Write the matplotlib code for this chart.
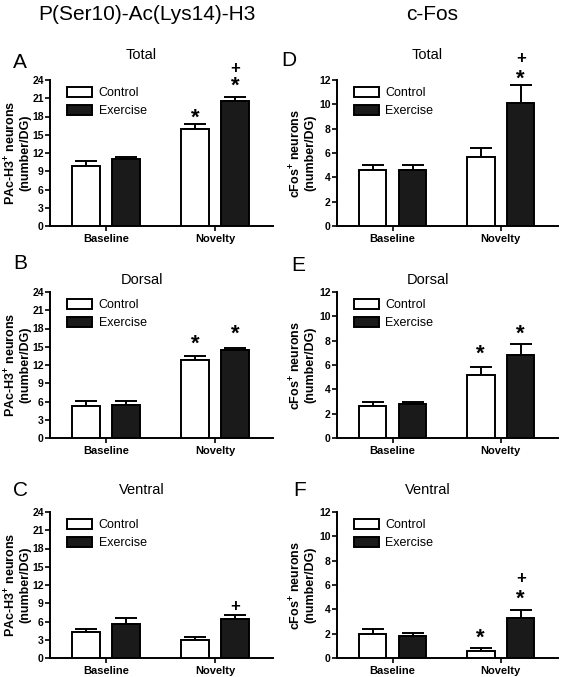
import matplotlib
matplotlib.use("Agg")
import matplotlib.pyplot as plt
import numpy as np
from matplotlib.patches import Patch

plt.rcParams['font.family'] = ['Liberation Sans', 'DejaVu Sans']
plt.rcParams['mathtext.fontset'] = 'custom'
plt.rcParams['mathtext.rm'] = 'Liberation Sans:bold'
plt.rcParams['mathtext.bf'] = 'Liberation Sans:bold'

categories = ["Baseline", "Novelty"]
groups = ["Control", "Exercise"]

# P(Ser10)-Ac(Lys14)-H3
pac_total_mean = {"Control": [9.9, 15.9], "Exercise": [11.0, 20.5]}
pac_total_err = {"Control": [0.85, 0.8], "Exercise": [0.3, 0.75]}
pac_dorsal_mean = {"Control": [5.3, 12.9], "Exercise": [5.5, 14.4]}
pac_dorsal_err = {"Control": [0.8, 0.5], "Exercise": [0.55, 0.4]}
pac_ventral_mean = {"Control": [4.35, 3.0], "Exercise": [5.6, 6.45]}
pac_ventral_err = {"Control": [0.45, 0.4], "Exercise": [0.9, 0.55]}

# c-Fos
fos_total_mean = {"Control": [4.6, 5.7], "Exercise": [4.6, 10.1]}
fos_total_err = {"Control": [0.45, 0.75], "Exercise": [0.45, 1.5]}
fos_dorsal_mean = {"Control": [2.6, 5.15], "Exercise": [2.8, 6.8]}
fos_dorsal_err = {"Control": [0.35, 0.7], "Exercise": [0.15, 0.9]}
fos_ventral_mean = {"Control": [2.0, 0.55], "Exercise": [1.8, 3.3]}
fos_ventral_err = {"Control": [0.35, 0.3], "Exercise": [0.25, 0.65]}

# significance marks: (category index, group, text, y position)
pac_total_marks = [(1, "Control", "*", 17.7), (1, "Exercise", "*", 23.0), (1, "Exercise", "+", 25.9)]
pac_dorsal_marks = [(1, "Control", "*", 15.4), (1, "Exercise", "*", 17.1)]
pac_ventral_marks = [(1, "Exercise", "+", 8.5)]
fos_total_marks = [(1, "Exercise", "*", 12.1), (1, "Exercise", "+", 13.8)]
fos_dorsal_marks = [(1, "Control", "*", 6.85), (1, "Exercise", "*", 8.55)]
fos_ventral_marks = [(1, "Control", "*", 1.6), (1, "Exercise", "*", 4.85), (1, "Exercise", "+", 6.55)]

W, H = 561, 677
fig = plt.figure(figsize=(W / 100, H / 100), dpi=100)

def fx(px):
    return px / W

def fy(py):
    return 1 - py / H

col_x = [(50, 273), (337, 558)]
row_y = [(80, 226), (292, 438), (512, 658)]

panels = [
    # col, row, letter, title, means, errs, marks, ymax, step, ylabel
    (0, 0, "A", "Total", pac_total_mean, pac_total_err, pac_total_marks, 24, 3, r"PAc-H3$^{+}$ neurons" + "\n(number/DG)"),
    (0, 1, "B", "Dorsal", pac_dorsal_mean, pac_dorsal_err, pac_dorsal_marks, 24, 3, r"PAc-H3$^{+}$ neurons" + "\n(number/DG)"),
    (0, 2, "C", "Ventral", pac_ventral_mean, pac_ventral_err, pac_ventral_marks, 24, 3, r"PAc-H3$^{+}$ neurons" + "\n(number/DG)"),
    (1, 0, "D", "Total", fos_total_mean, fos_total_err, fos_total_marks, 12, 2, r"cFos$^{+}$ neurons" + "\n(number/DG)"),
    (1, 1, "E", "Dorsal", fos_dorsal_mean, fos_dorsal_err, fos_dorsal_marks, 12, 2, r"cFos$^{+}$ neurons" + "\n(number/DG)"),
    (1, 2, "F", "Ventral", fos_ventral_mean, fos_ventral_err, fos_ventral_marks, 12, 2, r"cFos$^{+}$ neurons" + "\n(number/DG)"),
]

letter_pos = {"A": (20, 62), "B": (20, 263), "C": (20, 490), "D": (289, 60), "E": (298, 265), "F": (300, 490)}
title_y = [55, 280, 490]
title_dx = -20

offsets = {"Control": -0.185, "Exercise": 0.185}
colors = {"Control": "white", "Exercise": "#1a1a1a"}
bw = 0.255
x = np.arange(len(categories))

for col, row, letter, title, means, errs, marks, ymax, step, ylabel in panels:
    x0, x1 = col_x[col]
    yt, yb = row_y[row]
    ax = fig.add_axes([fx(x0), fy(yb), fx(x1 - x0), (yb - yt) / H])
    for g in groups:
        xs = x + offsets[g]
        ax.bar(xs, means[g], width=bw, color=colors[g], edgecolor="black", linewidth=1.4, zorder=3)
        ax.errorbar(xs, means[g], yerr=[np.zeros(len(categories)), errs[g]], fmt="none",
                    ecolor="black", elinewidth=1.4, capsize=8, capthick=1.4, zorder=2)
    for ci, g, txt, yv in marks:
        ax.text(x[ci] + offsets[g], yv, txt, ha="center", va="center",
                fontsize=16 if txt == "*" else 12, fontweight="bold", clip_on=False)
    ax.set_ylim(0, ymax)
    ax.set_xlim(-0.515, 1.53)
    ax.set_yticks(np.arange(0, ymax + 0.1, step))
    ax.set_xticks(x)
    ax.set_xticklabels(categories, fontsize=8, fontweight="bold")
    for lab in ax.get_yticklabels():
        lab.set_fontsize(7.5)
        lab.set_fontweight("bold")
    ax.tick_params(axis="y", length=3.5, width=1.2, pad=1)
    ax.tick_params(axis="x", length=3.5, width=1.2, pad=2)
    for s in ["top", "right"]:
        ax.spines[s].set_visible(False)
    for s in ["left", "bottom"]:
        ax.spines[s].set_linewidth(1.4)
    ax.set_ylabel(ylabel, fontsize=9, fontweight="bold", linespacing=1.1)
    ax.yaxis.set_label_coords(-0.085 if col == 0 else -0.095, 0.5)
    handles = [Patch(facecolor=colors[g], edgecolor="black", linewidth=1.4) for g in groups]
    ax.legend(handles, groups, loc="upper left", bbox_to_anchor=(0.055, 0.985), frameon=False,
              fontsize=9, handlelength=2.0, handleheight=0.8, labelspacing=0.45, handletextpad=0.5,
              borderaxespad=0)
    cx = (x0 + x1) / 2 + title_dx
    fig.text(fx(cx), fy(title_y[row]), title, ha="center", va="center", fontsize=10.5)
    lx, ly = letter_pos[letter]
    fig.text(fx(lx), fy(ly), letter, ha="center", va="center", fontsize=15)

fig.text(fx(147), fy(14), "P(Ser10)-Ac(Lys14)-H3", ha="center", va="center", fontsize=15)
fig.text(fx(432), fy(14), "c-Fos", ha="center", va="center", fontsize=15)

fig.savefig("out.png", dpi=100)
